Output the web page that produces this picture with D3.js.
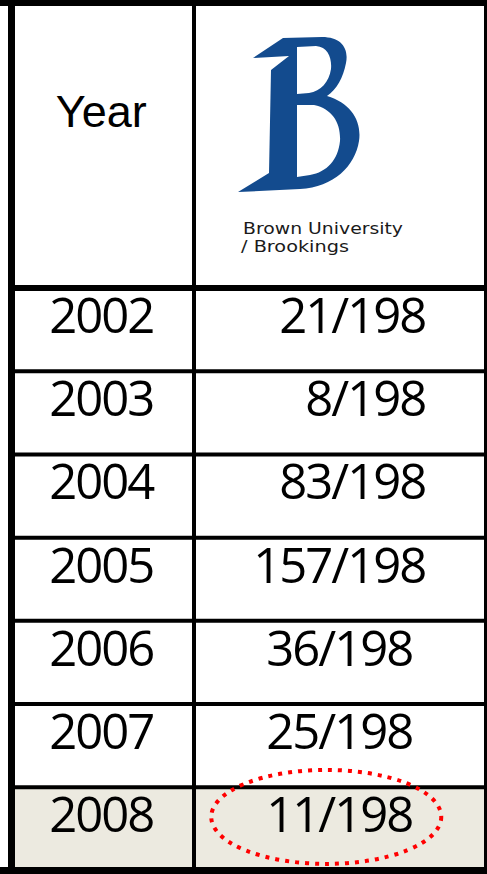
<!DOCTYPE html>
<html>
<head>
<meta charset="utf-8">
<script src="https://cdn.jsdelivr.net/npm/d3@7"></script>
<style>
  body { margin: 0; background: #fff; }
  svg { display: block; }
</style>
</head>
<body>
<div id="chart"></div>
<script>
// table content
const years = ["2002", "2003", "2004", "2005", "2006", "2007", "2008"];
const ranks = [21, 8, 83, 157, 36, 25, 11];
const totals = [198, 198, 198, 198, 198, 198, 198];
const headerLabel = "Year";
const logoLines = ["Brown University", "/ Brookings"];
const highlightYear = "2008";
const paddedYears = ["2002", "2003", "2004"]; // these were space-padded in the original

const svgWidth = 487, svgHeight = 874;
const frame = { left: 11.5, right: 485.5, top: 3, bottom: 870.5 };
const headerBottom = 288, divider = 194;

const svg = d3.select('#chart').append('svg')
  .attr('width', svgWidth)
  .attr('height', svgHeight);

const yScale = d3.scaleBand()
  .domain(years)
  .range([headerBottom, frame.bottom]);

const colCenter = [(frame.left + divider) / 2 - 1.5, (divider + frame.right) / 2 - 0.5];

// highlighted last row background
svg.append('rect')
  .attr('x', frame.left)
  .attr('y', yScale(highlightYear))
  .attr('width', frame.right - frame.left)
  .attr('height', yScale.bandwidth())
  .attr('fill', '#ECEAE0');

// grid lines
const grid = svg.append('g').attr('stroke', '#000');

grid.selectAll('line.row')
  .data(years.slice(1))
  .enter()
  .append('line')
  .attr('class', 'row')
  .attr('x1', frame.left).attr('x2', frame.right)
  .attr('y1', d => yScale(d)).attr('y2', d => yScale(d))
  .attr('stroke-width', 4);

grid.append('line')
  .attr('x1', frame.left).attr('x2', frame.right)
  .attr('y1', headerBottom).attr('y2', headerBottom)
  .attr('stroke-width', 6);

grid.append('line')
  .attr('x1', divider).attr('x2', divider)
  .attr('y1', frame.top).attr('y2', frame.bottom)
  .attr('stroke-width', 4);

// outer frame
grid.append('line').attr('x1', 0).attr('x2', svgWidth).attr('y1', frame.top).attr('y2', frame.top).attr('stroke-width', 6);
grid.append('line').attr('x1', 0).attr('x2', svgWidth).attr('y1', frame.bottom).attr('y2', frame.bottom).attr('stroke-width', 7);
grid.append('line').attr('x1', frame.left).attr('x2', frame.left).attr('y1', 0).attr('y2', svgHeight).attr('stroke-width', 7);
grid.append('line').attr('x1', frame.right).attr('x2', frame.right).attr('y1', 0).attr('y2', svgHeight).attr('stroke-width', 3);

// header
svg.append('text')
  .attr('x', colCenter[0])
  .attr('y', 127)
  .attr('text-anchor', 'middle')
  .style('font-family', '"Liberation Sans", Arial, sans-serif')
  .style('font-size', '45px')
  .text(headerLabel);

// logo mark
const logo = svg.append('g').attr('fill', '#134B8E');
logo.append('path')
  .attr('fill-rule', 'evenodd')
  .attr('d',
    'M238,192 L269,173 L271,70 L289,56 L253,58 L283,38 L322,37 ' +
    'C341,37 349,48 346,63 C343,78 337,89 327,96 ' +
    'C351,103 362,121 359,141 C355,166 334,187 300,189 Z ' +
    'M297,47 L316,46 C328,47 332,58 331,69 C329,82 321,91 309,93 L297,94 Z ' +
    'M297,105 L314,105 C333,109 341,124 340,141 C338,160 327,172 310,175 L297,177 Z');

logo.selectAll('text')
  .data(logoLines)
  .enter()
  .append('text')
  .attr('x', (d, i) => i === 0 ? 243 : 241)
  .attr('y', (d, i) => 234 + i * 18)
  .attr('textLength', (d, i) => i === 0 ? 160 : 108)
  .attr('lengthAdjust', 'spacingAndGlyphs')
  .attr('fill', '#1a1a1a')
  .style('font-family', '"DejaVu Sans", sans-serif')
  .style('font-size', '15.5px')
  .text(d => d);

// body rows
const numFont = '"Open Sans", "Noto Sans", sans-serif';

svg.append('g').selectAll('text')
  .data(years)
  .enter()
  .append('text')
  .attr('x', colCenter[0])
  .attr('y', d => yScale(d) + 45)
  .attr('text-anchor', 'middle')
  .style('font-family', numFont)
  .style('font-size', '49px')
  .style('letter-spacing', '-2px')
  .text(d => d);

const rankLabels = ranks.map((r, i) => `${r}/${totals[i]}`);

const vals = svg.append('g').selectAll('text')
  .data(years)
  .enter()
  .append('text')
  .attr('y', d => yScale(d) + 45)
  .style('font-family', numFont)
  .style('font-size', '49px')
  .style('letter-spacing', '-2px')
  .text((d, i) => rankLabels[i]);

const maxW = d3.max(vals.nodes(), n => n.getComputedTextLength());
vals
  .attr('x', d => paddedYears.includes(d) ? colCenter[1] + maxW / 2 : colCenter[1])
  .attr('text-anchor', d => paddedYears.includes(d) ? 'end' : 'middle');

// dotted red ring around the latest rank
svg.append('ellipse')
  .attr('cx', colCenter[1] - 13)
  .attr('cy', yScale(highlightYear) + yScale.bandwidth() / 2 - 12)
  .attr('rx', 115)
  .attr('ry', 47)
  .attr('fill', 'none')
  .attr('stroke', '#f00')
  .attr('stroke-width', 4)
  .attr('stroke-dasharray', '4 6');
</script>
</body>
</html>
